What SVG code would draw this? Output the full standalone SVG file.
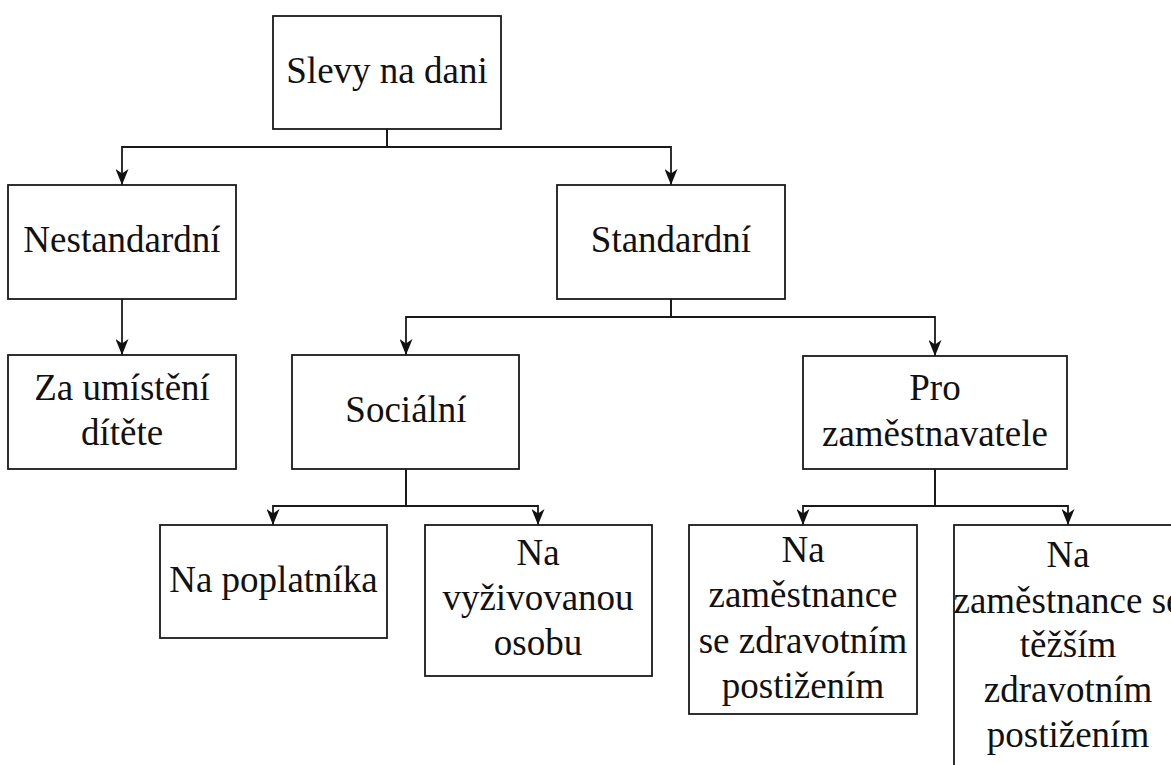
<svg xmlns="http://www.w3.org/2000/svg" width="1171" height="765" viewBox="0 0 1171 765">
<defs>
<style>
.box{fill:#fff;stroke:#1a1a1a;stroke-width:1.8}
.t{font-family:'Liberation Serif','Tinos','DejaVu Serif',serif;font-size:37px;fill:#111;text-anchor:middle}
.c{fill:none;stroke:#1a1a1a;stroke-width:1.8;marker-end:url(#arr)}
</style>
<marker id="arr" viewBox="0 0 16 13" refX="16" refY="6.5" markerWidth="16" markerHeight="13" markerUnits="userSpaceOnUse" orient="auto">
<path d="M0,0 L16,6.5 L0,13 L4.5,6.5 Z" fill="#111"/>
</marker>
</defs>
<rect width="1171" height="765" fill="#fff"/>
<g id="connectors">
<path class="c" d="M387,129 V147 H122 V185"/>
<path class="c" d="M387,129 V147 H671 V185"/>
<path class="c" d="M122,299 V355"/>
<path class="c" d="M671,299 V317 H406 V355"/>
<path class="c" d="M671,299 V317 H935 V356"/>
<path class="c" d="M406,469 V506 H273 V525"/>
<path class="c" d="M406,469 V506 H538 V525"/>
<path class="c" d="M935,469 V506 H803 V525"/>
<path class="c" d="M935,469 V506 H1068 V525"/>
</g>
<g id="slevy">
<rect class="box" x="273" y="16" width="228" height="113"/>
<text class="t" x="387" y="83">Slevy na dani</text>
</g>
<g id="nestandardni">
<rect class="box" x="8" y="185" width="228" height="114"/>
<text class="t" x="122" y="252">Nestandardní</text>
</g>
<g id="standardni">
<rect class="box" x="557" y="185" width="228" height="114"/>
<text class="t" x="671" y="252">Standardní</text>
</g>
<g id="za-umisteni">
<rect class="box" x="8" y="355" width="228" height="114"/>
<text class="t" x="122" y="400">Za umístění</text>
<text class="t" x="122" y="445">dítěte</text>
</g>
<g id="socialni">
<rect class="box" x="292" y="355" width="227" height="114"/>
<text class="t" x="406" y="422">Sociální</text>
</g>
<g id="pro-zamestnavatele">
<rect class="box" x="803" y="356" width="264" height="113"/>
<text class="t" x="935" y="400">Pro</text>
<text class="t" x="935" y="446">zaměstnavatele</text>
</g>
<g id="na-poplatnika">
<rect class="box" x="160" y="525" width="227" height="113"/>
<text class="t" x="273.5" y="592">Na poplatníka</text>
</g>
<g id="na-vyzivovanou">
<rect class="box" x="425" y="525" width="227" height="151"/>
<text class="t" x="538" y="565">Na</text>
<text class="t" x="538" y="610">vyživovanou</text>
<text class="t" x="538" y="655">osobu</text>
</g>
<g id="na-zamestnance-zp">
<rect class="box" x="689" y="525" width="228" height="189"/>
<text class="t" x="803" y="562">Na</text>
<text class="t" x="803" y="607">zaměstnance</text>
<text class="t" x="803" y="653">se zdravotním</text>
<text class="t" x="803" y="698">postižením</text>
</g>
<g id="na-zamestnance-tzp">
<rect class="box" x="954" y="525" width="228" height="260"/>
<text class="t" x="1068" y="567">Na</text>
<text class="t" x="1068" y="613">zaměstnance se</text>
<text class="t" x="1068" y="657">těžším</text>
<text class="t" x="1068" y="702">zdravotním</text>
<text class="t" x="1068" y="747">postižením</text>
</g>
</svg>
